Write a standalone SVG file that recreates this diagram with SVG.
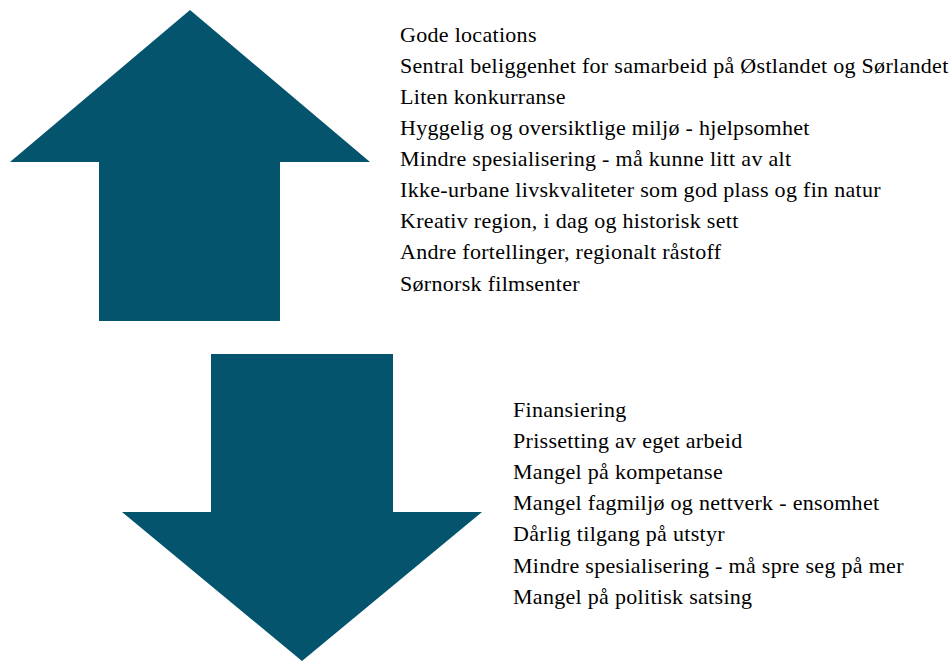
<svg xmlns="http://www.w3.org/2000/svg" width="951" height="661" viewBox="0 0 951 661">
<style>
.arrow{fill:#03546c}
.t{font-family:"Liberation Serif","DejaVu Serif",serif;font-size:22px;letter-spacing:0.3px;fill:#000}
</style>
<rect width="951" height="661" fill="#fff"/>
<g id="up-arrow"><polygon class="arrow" points="190,10 370,162 280,162 280,321 99,321 99,162 10,162"/></g>
<g id="down-arrow"><polygon class="arrow" points="211,354 393,354 393,512 482,512 302,661 122,512 211,512"/></g>
<g id="strengths">
<text class="t" x="400" y="41.5">Gode locations</text>
<text class="t" x="400" y="72.5">Sentral beliggenhet for samarbeid på Østlandet og Sørlandet</text>
<text class="t" x="400" y="103.5">Liten konkurranse</text>
<text class="t" x="400" y="134.5">Hyggelig og oversiktlige miljø - hjelpsomhet</text>
<text class="t" x="400" y="165.5">Mindre spesialisering - må kunne litt av alt</text>
<text class="t" x="400" y="196.5">Ikke-urbane livskvaliteter som god plass og fin natur</text>
<text class="t" x="400" y="227.5">Kreativ region, i dag og historisk sett</text>
<text class="t" x="400" y="258.5">Andre fortellinger, regionalt råstoff</text>
<text class="t" x="400" y="290.5">Sørnorsk filmsenter</text>
</g>
<g id="weaknesses">
<text class="t" x="513" y="416.5">Finansiering</text>
<text class="t" x="513" y="447.5">Prissetting av eget arbeid</text>
<text class="t" x="513" y="478.5">Mangel på kompetanse</text>
<text class="t" x="513" y="509.5">Mangel fagmiljø og nettverk - ensomhet</text>
<text class="t" x="513" y="540.5">Dårlig tilgang på utstyr</text>
<text class="t" x="513" y="572.5">Mindre spesialisering - må spre seg på mer</text>
<text class="t" x="513" y="603.5">Mangel på politisk satsing</text>
</g>
</svg>
